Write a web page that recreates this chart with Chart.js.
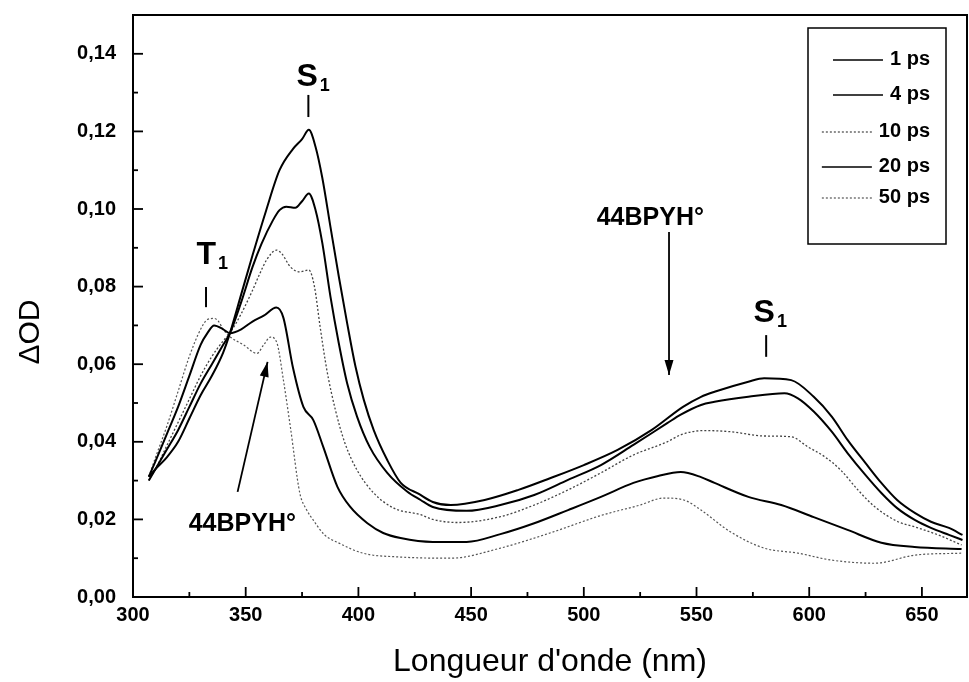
<!DOCTYPE html>
<html><head><meta charset="utf-8">
<script src="https://cdn.jsdelivr.net/npm/chart.js@4/dist/chart.umd.min.js"></script>
<style>html,body{margin:0;padding:0;background:#fff}#wrap{width:969px;height:682px}</style>
</head><body><div id="wrap"><canvas id="c" width="969" height="682"></canvas></div>
<script>
// ---- data ----
const seriesLabels = ['1 ps', '4 ps', '10 ps', '20 ps', '50 ps'];

const wl1ps = [307,310,315,320,325,330,335,340,343,348,353,359,365,371,375,378,381,384,387.6,391.3,395,398.7,402.4,406.8,412.8,418.7,427,433,441,456,471,485,500,515,530,544,552,558,573,580,592,602,610,617,625,632,639,647,654,662,668];
const od1ps = [0.031,0.033,0.036,0.040,0.046,0.052,0.057,0.063,0.068,0.078,0.088,0.0995,0.110,0.1155,0.118,0.1204,0.116,0.108,0.0954,0.0826,0.0706,0.0594,0.0508,0.043,0.0353,0.0295,0.0265,0.0245,0.0237,0.025,0.0276,0.0306,0.034,0.0379,0.043,0.049,0.0516,0.0529,0.0555,0.0564,0.0559,0.0516,0.0465,0.0405,0.0345,0.0294,0.025,0.0216,0.0194,0.0178,0.016];

const wl4ps = [307,310,315,320,325,330,335,340,343,348,353,357,362,365,368,372,375,378,381,384,387.6,391.3,395,399.4,405,412.8,421.6,427.6,433,448,463,478,493,507.6,522,537,543,552,558,573,589,595,602,610,617,625,632,639,647,654,662,668];
const od4ps = [0.030,0.033,0.038,0.043,0.049,0.055,0.060,0.065,0.068,0.076,0.085,0.091,0.097,0.0997,0.1006,0.1003,0.102,0.104,0.0997,0.0912,0.0774,0.0654,0.0551,0.0465,0.0387,0.032,0.0272,0.025,0.0232,0.0222,0.0237,0.0263,0.0302,0.034,0.0392,0.0448,0.047,0.0495,0.0503,0.0516,0.0525,0.0512,0.0478,0.0426,0.0371,0.0314,0.0268,0.0229,0.0198,0.0178,0.016,0.0147];

const wl10ps = [307,310,315,320,325,330,335,340,343,348,353,356,359.3,363.7,366,369.8,374,378,380.5,383,386,389.8,394,399.4,406.8,415.7,427.6,433,444,463,478,493,507.6,522,537,543,553,565,580,592,599.4,606.7,614,621.6,629,639.4,646.7,657.2,667.6];
const od10ps = [0.030,0.033,0.039,0.045,0.051,0.057,0.062,0.066,0.068,0.073,0.079,0.083,0.0869,0.0894,0.0885,0.0851,0.0838,0.0843,0.080,0.0697,0.0585,0.0482,0.0397,0.0327,0.0268,0.0229,0.0212,0.0200,0.0192,0.0207,0.0237,0.0276,0.032,0.0366,0.040,0.0418,0.0429,0.0426,0.0415,0.0413,0.0387,0.0362,0.0327,0.0276,0.0233,0.0194,0.0181,0.016,0.0134];

const wl20ps = [307,310,315,320,325,330,333,336,340,343,348,353,358,363.6,366.7,371,375.6,380,384.4,390.7,396.4,404,411,418.7,433,448,463,478,493,507.6,522,533,543,552,558,573,587.6,602,617,632,646.7,667.6];
const od20ps = [0.031,0.035,0.042,0.049,0.057,0.065,0.068,0.070,0.069,0.068,0.069,0.071,0.0725,0.0746,0.072,0.059,0.049,0.0456,0.0387,0.0284,0.0232,0.019,0.0165,0.0152,0.0142,0.0142,0.0162,0.019,0.0224,0.0258,0.0294,0.0312,0.0322,0.0309,0.0294,0.0258,0.0237,0.0206,0.0173,0.014,0.0129,0.0124];

const wl50ps = [307,310,315,320,325,330,333,336,338,340,343,349,355,358,361,363.9,366.7,369.8,374,377,380,385,391,402,418.7,441,463,485,507.6,525,535.5,544.4,552,565,580,595,610,629,647,667.6];
const od50ps = [0.031,0.036,0.044,0.053,0.062,0.069,0.0715,0.0718,0.071,0.069,0.0671,0.065,0.0628,0.065,0.067,0.0654,0.056,0.0439,0.0268,0.0225,0.0198,0.016,0.014,0.0113,0.0103,0.010,0.0126,0.0165,0.021,0.0237,0.0255,0.025,0.0224,0.0168,0.0126,0.0113,0.0095,0.0087,0.0108,0.0113];

const xTickValues = [300,350,400,450,500,550,600,650];
const yTickValues = [0,0.02,0.04,0.06,0.08,0.10,0.12,0.14];

// ---- styling ----
const FONT = "'Liberation Sans', Arial, Helvetica, sans-serif";
const wls = [wl1ps, wl4ps, wl10ps, wl20ps, wl50ps];
const ods = [od1ps, od4ps, od10ps, od20ps, od50ps];
const styles = [
  {color:'#000', width:2, dash:[]},
  {color:'#000', width:2, dash:[]},
  {color:'#444', width:1.3, dash:[2,2]},
  {color:'#000', width:2, dash:[]},
  {color:'#555', width:1.2, dash:[2,2]}
];

const datasets = seriesLabels.map((lab, i) => ({
  label: lab,
  data: wls[i].map((w, j) => ({x: w, y: ods[i][j]})),
  borderColor: styles[i].color,
  borderWidth: styles[i].width,
  borderDash: styles[i].dash,
  pointRadius: 0,
  fill: false,
  cubicInterpolationMode: 'monotone',
  tension: 0.3
}));

function arrow(ctx, x1, y1, x2, y2) {
  ctx.beginPath(); ctx.moveTo(x1, y1); ctx.lineTo(x2, y2); ctx.stroke();
  const ang = Math.atan2(y2 - y1, x2 - x1), L = 15, W = 4.5;
  ctx.beginPath();
  ctx.moveTo(x2, y2);
  ctx.lineTo(x2 - L*Math.cos(ang) + W*Math.sin(ang), y2 - L*Math.sin(ang) - W*Math.cos(ang));
  ctx.lineTo(x2 - L*Math.cos(ang) - W*Math.sin(ang), y2 - L*Math.sin(ang) + W*Math.cos(ang));
  ctx.closePath(); ctx.fill();
}

function subLabel(ctx, main, sub, x, y) {
  ctx.font = 'bold 32px ' + FONT;
  ctx.textAlign = 'left'; ctx.textBaseline = 'alphabetic';
  ctx.fillText(main, x, y);
  const w = ctx.measureText(main).width;
  ctx.font = 'bold 18px ' + FONT;
  ctx.fillText(sub, x + w + 2, y + 5);
}

const decor = {
  id: 'decor',
  afterDraw(chart) {
    const {ctx, chartArea: a, scales: {x, y}} = chart;
    ctx.save();
    ctx.strokeStyle = '#000'; ctx.fillStyle = '#000';
    ctx.lineWidth = 2;
    ctx.strokeRect(a.left, a.top, a.right - a.left, a.bottom - a.top);
    // inward ticks
    ctx.lineWidth = 1.8;
    for (let v = 300; v <= 670; v += 25) {
      const px = x.getPixelForValue(v), len = (v % 50 === 0) ? 10 : 5;
      ctx.beginPath(); ctx.moveTo(px, a.bottom); ctx.lineTo(px, a.bottom - len); ctx.stroke();
    }
    for (let i = 0; i <= 14; i++) {
      const py = y.getPixelForValue(i * 0.01), len = (i % 2 === 0) ? 10 : 5;
      ctx.beginPath(); ctx.moveTo(a.left, py); ctx.lineTo(a.left + len, py); ctx.stroke();
    }
    // y title
    ctx.save();
    ctx.translate(31, 332); ctx.rotate(-Math.PI/2);
    ctx.font = '30px ' + FONT; ctx.textAlign = 'center'; ctx.textBaseline = 'middle';
    ctx.fillText('\u0394OD', 0, 0);
    ctx.restore();
    // legend
    ctx.lineWidth = 1.5;
    ctx.strokeRect(808, 28, 138, 216);
    const ly = [59, 94, 131, 166, 197];
    ctx.font = 'bold 20px ' + FONT; ctx.textBaseline = 'middle'; ctx.textAlign = 'right';
    chart.data.datasets.forEach((ds, i) => {
      const tw = ctx.measureText(ds.label).width;
      const tx = 930;
      ctx.fillText(ds.label, tx, ly[i]);
      ctx.save();
      ctx.strokeStyle = ds.borderColor; ctx.lineWidth = ds.borderWidth > 1.5 ? 1.6 : 1.2;
      ctx.setLineDash(ds.borderDash);
      const ex = tx - tw - 7;
      ctx.beginPath(); ctx.moveTo(ex - 50, ly[i] + 1); ctx.lineTo(ex, ly[i] + 1); ctx.stroke();
      ctx.restore();
    });
    // annotations
    ctx.lineWidth = 2;
    const X = v => x.getPixelForValue(v), Y = v => y.getPixelForValue(v);
    // S1 upper
    subLabel(ctx, 'S', '1', X(372.5), Y(0.1317));
    ctx.beginPath(); ctx.moveTo(X(377.8), Y(0.1294)); ctx.lineTo(X(377.8), Y(0.1237)); ctx.stroke();
    // T1
    subLabel(ctx, 'T', '1', X(328.2), Y(0.0857));
    ctx.beginPath(); ctx.moveTo(X(332.4), Y(0.0799)); ctx.lineTo(X(332.4), Y(0.0747)); ctx.stroke();
    // S1 right
    subLabel(ctx, 'S', '1', X(575.3), Y(0.0709));
    ctx.beginPath(); ctx.moveTo(X(580.9), Y(0.0675)); ctx.lineTo(X(580.9), Y(0.0619)); ctx.stroke();
    // 44BPYH° labels
    ctx.font = 'bold 25px ' + FONT; ctx.textAlign = 'center'; ctx.textBaseline = 'alphabetic';
    ctx.fillText('44BPYH\u00B0', X(529.5), Y(0.0959));
    ctx.fillText('44BPYH\u00B0', X(348.5), Y(0.0170));
    ctx.lineWidth = 1.8;
    arrow(ctx, X(537.8), Y(0.0941), X(537.8), Y(0.0572));
    arrow(ctx, X(346.4), Y(0.0271), X(359.7), Y(0.0606));
    ctx.restore();
  }
};

new Chart(document.getElementById('c'), {
  type: 'line',
  data: { datasets },
  options: {
    responsive: false,
    animation: false,
    events: [],
    layout: { padding: { top: 15, right: 2, left: 0, bottom: 0 } },
    plugins: { legend: { display: false }, tooltip: { enabled: false } },
    scales: {
      x: {
        type: 'linear', min: 300, max: 670,
        afterFit: s => { s.height = 85; },
        afterBuildTicks: s => { s.ticks = xTickValues.map(v => ({value: v})); },
        grid: { display: false, drawTicks: false },
        border: { display: false },
        ticks: { padding: 6, color: '#000', font: { family: FONT, size: 20, weight: 'bold' }, maxRotation: 0,
                 callback: v => String(v) },
        title: { display: true, text: "Longueur d'onde (nm)", color: '#000',
                 font: { family: FONT, size: 32 }, padding: { top: 0, bottom: 1 } }
      },
      y: {
        type: 'linear', min: 0, max: 0.15,
        afterFit: s => { s.width = 133; s.paddingTop = 0; s.paddingBottom = 0; },
        afterBuildTicks: s => { s.ticks = yTickValues.map(v => ({value: v})); },
        grid: { display: false, drawTicks: false },
        border: { display: false },
        ticks: { padding: 17, color: '#000', font: { family: FONT, size: 20, weight: 'bold' },
                 callback: v => v.toFixed(2).replace('.', ',') }
      }
    }
  },
  plugins: [decor]
});
</script></body></html>
